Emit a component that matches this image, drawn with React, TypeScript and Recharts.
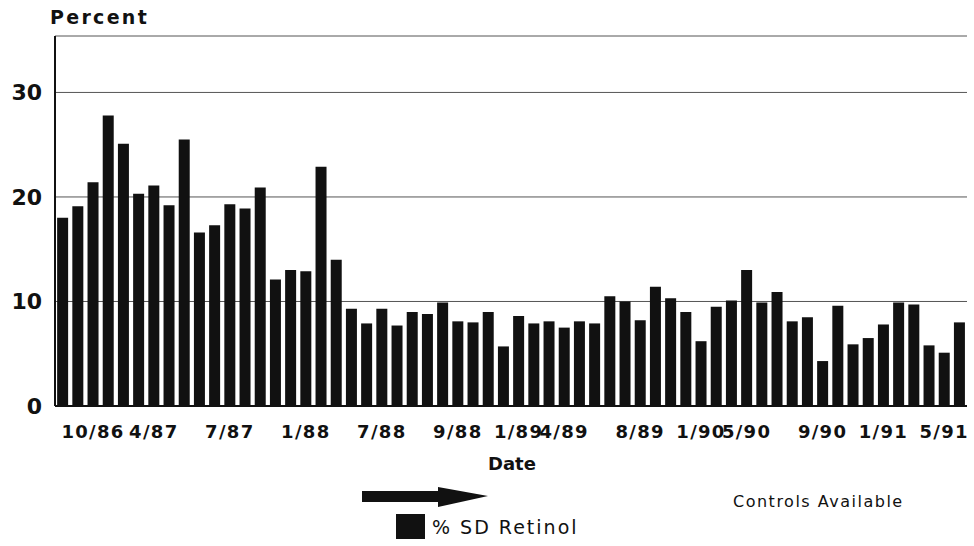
import {
  BarChart,
  Bar,
  XAxis,
  YAxis,
  CartesianGrid,
} from "recharts";

const dateLabels = [
  "", "", "10/86", "", "", "", "4/87", "", "", "",
  "", "7/87", "", "", "", "", "1/88", "", "", "",
  "", "7/88", "", "", "", "", "9/88", "", "", "",
  "1/89", "", "", "4/89", "", "", "", "", "8/89", "",
  "", "", "1/90", "", "", "5/90", "", "", "", "",
  "9/90", "", "", "", "1/91", "", "", "", "5/91", "",
];

const sdRetinol = [
  18.0, 19.1, 21.4, 27.8, 25.1, 20.3, 21.1, 19.2, 25.5, 16.6,
  17.3, 19.3, 18.9, 20.9, 12.1, 13.0, 12.9, 22.9, 14.0, 9.3,
  7.9, 9.3, 7.7, 9.0, 8.8, 9.9, 8.1, 8.0, 9.0, 5.7,
  8.6, 7.9, 8.1, 7.5, 8.1, 7.9, 10.5, 10.0, 8.2, 11.4,
  10.3, 9.0, 6.2, 9.5, 10.1, 13.0, 9.9, 10.9, 8.1, 8.5,
  4.3, 9.6, 5.9, 6.5, 7.8, 9.9, 9.7, 5.8, 5.1, 8.0,
];

const yTicks = [0, 10, 20, 30];

const data = sdRetinol.map((v, i) => ({ idx: i, value: v }));

const ink = "#111";
const font = "'DejaVu Sans', sans-serif";

export default function App() {
  return (
    <div style={{ position: "absolute", left: 0, top: 0, width: 974, height: 546, background: "#fff" }}>
      <div
        style={{
          position: "absolute",
          left: 50,
          top: 6,
          fontFamily: font,
          fontWeight: "bold",
          fontSize: 19,
          letterSpacing: 2.3,
          color: ink,
        }}
      >
        Percent
      </div>
      <BarChart
        width={974}
        height={546}
        data={data}
        margin={{ top: 36, right: 7, bottom: 110, left: 0 }}
        barCategoryGap="14%"
      >
        <CartesianGrid horizontal vertical={false} stroke="#555" strokeWidth={1} />
        <XAxis
          dataKey="idx"
          interval={0}
          tickFormatter={(i) => dateLabels[i]}
          tick={{ fill: ink, fontSize: 18, fontWeight: "bold", fontFamily: font, letterSpacing: 1.3 }}
          axisLine={{ stroke: ink, strokeWidth: 2 }}
          tickLine={false}
          tickSize={6}
          tickMargin={13}
          height={30}
        />
        <XAxis xAxisId="top" dataKey="idx" orientation="top" height={0} tick={false} tickLine={false} axisLine={{ stroke: ink, strokeWidth: 2 }} />
        <YAxis
          domain={[0, 35.4]}
          ticks={yTicks}
          tick={{ fill: ink, fontSize: 22, fontWeight: "bold", fontFamily: font }}
          axisLine={{ stroke: ink, strokeWidth: 2 }}
          tickLine={false}
          tickSize={0}
          tickMargin={13}
          width={55}
        />
        <YAxis yAxisId="right" orientation="right" domain={[0, 35.4]} width={0} tick={false} tickLine={false} axisLine={{ stroke: ink, strokeWidth: 2 }} />
        <Bar dataKey="value" name="% SD Retinol" fill={ink} isAnimationActive={false} />
      </BarChart>
      <div
        style={{
          position: "absolute",
          left: 488,
          top: 453,
          fontFamily: font,
          fontWeight: "bold",
          fontSize: 18,
          color: ink,
        }}
      >
        Date
      </div>
      <svg style={{ position: "absolute", left: 360, top: 484 }} width={132} height={26}>
        <rect x={2} y={7} width={88} height={11} fill={ink} />
        <polygon points="78,3 128,12 78,23" fill={ink} />
      </svg>
      <div
        style={{
          position: "absolute",
          left: 733,
          top: 492,
          fontFamily: font,
          fontSize: 16,
          letterSpacing: 1.5,
          color: ink,
        }}
      >
        Controls Available
      </div>
      <div
        style={{
          position: "absolute",
          left: 396,
          top: 514,
          display: "flex",
          alignItems: "center",
          fontFamily: font,
        }}
      >
        <span style={{ display: "inline-block", width: 29, height: 25, background: ink }} />
        <span style={{ marginLeft: 7, fontSize: 19, letterSpacing: 2, color: ink }}>% SD Retinol</span>
      </div>
    </div>
  );
}
